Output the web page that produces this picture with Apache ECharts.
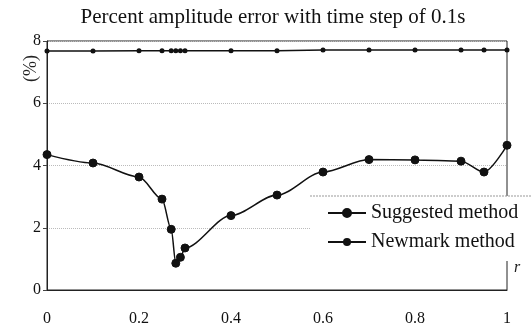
<!DOCTYPE html>
<html><head><meta charset="utf-8">
<script src="https://cdn.jsdelivr.net/npm/echarts@6/dist/echarts.min.js"></script>
<style>html,body{margin:0;padding:0;background:#fff}#c{width:532px;height:331px}</style>
</head><body><div id="c"></div>
<script>
var titleText = 'Percent amplitude error with time step of 0.1s';
var rValues = [0, 0.1, 0.2, 0.25, 0.27, 0.28, 0.29, 0.3, 0.4, 0.5, 0.6, 0.7, 0.8, 0.9, 0.95, 1];
var suggested = [4.35, 4.08, 3.63, 2.92, 1.95, 0.86, 1.05, 1.35, 2.39, 3.05, 3.79, 4.19, 4.18, 4.14, 3.79, 4.65];
var newmark = [7.68, 7.68, 7.69, 7.69, 7.69, 7.69, 7.69, 7.69, 7.69, 7.69, 7.71, 7.71, 7.71, 7.71, 7.71, 7.71];
var seriesNames = ['Suggested method', 'Newmark method'];
var xTicks = ['0', '0.2', '0.4', '0.6', '0.8', '1'];

function pairs(xs, ys) { return xs.map(function (x, i) { return [x, ys[i]]; }); }
var serif = '"Liberation Serif", "DejaVu Serif", serif';
var chart = echarts.init(document.getElementById('c'));
chart.setOption({
  animation: false,
  backgroundColor: '#fff',
  title: { text: titleText, left: 268, textAlign: 'center', top: 2,
    textStyle: { fontFamily: serif, fontSize: 21, fontWeight: 'normal', color: '#111' } },
  grid: { left: 47, right: 25, top: 41, bottom: 41, show: true, borderColor: '#222', borderWidth: 1 },
  xAxis: { type: 'value', min: 0, max: 1, interval: 0.2,
    axisLine: { lineStyle: { color: '#222' } }, axisTick: { show: false }, splitLine: { show: false },
    axisLabel: { margin: 21, fontFamily: serif, fontSize: 16, color: '#111',
      formatter: function (v) { var s = String(Math.round(v * 10) / 10); return xTicks.indexOf(s) >= 0 ? s : ''; } } },
  yAxis: { type: 'value', min: 0, max: 8, interval: 2,
    axisLine: { show: true, lineStyle: { color: '#222' } },
    axisTick: { show: true, length: 4, lineStyle: { color: '#444' } },
    splitLine: { lineStyle: { color: '#bbb', type: 'dotted' } },
    axisLabel: { margin: 6, fontFamily: serif, fontSize: 16, color: '#111' } },
  legend: { orient: 'vertical', left: 310, top: 196,
    backgroundColor: '#fff', borderWidth: 0,
    padding: [7, 60, 9, 17], itemGap: 9, itemWidth: 38, itemHeight: 10,
    textStyle: { fontFamily: serif, fontSize: 20, color: '#111' },
    data: seriesNames },
  graphic: [
    { type: 'line', z: 100, shape: { x1: 310, y1: 196, x2: 532, y2: 196 },
      style: { stroke: '#999', lineWidth: 1, lineDash: [2, 1] } },
    { type: 'text', left: 22, top: 55, rotation: Math.PI / 2,
      style: { text: '(%)', font: '18px ' + serif, fill: '#222' } },
    { type: 'text', left: 514, top: 260,
      style: { text: 'r', font: 'italic 16px ' + serif, fill: '#222' } }
  ],
  series: [
    { name: seriesNames[0], type: 'line', data: pairs(rValues, suggested), smooth: 0.3,
      smoothMonotone: 'x', symbol: 'circle', symbolSize: 8, showAllSymbol: true,
      lineStyle: { color: '#111', width: 1.5 },
      itemStyle: { color: '#111', borderColor: '#111', borderWidth: 1 } },
    { name: seriesNames[1], type: 'line', data: pairs(rValues, newmark),
      symbol: 'circle', symbolSize: 5, showAllSymbol: true,
      lineStyle: { color: '#111', width: 1.5 },
      itemStyle: { color: '#111' } }
  ]
});
</script></body></html>
